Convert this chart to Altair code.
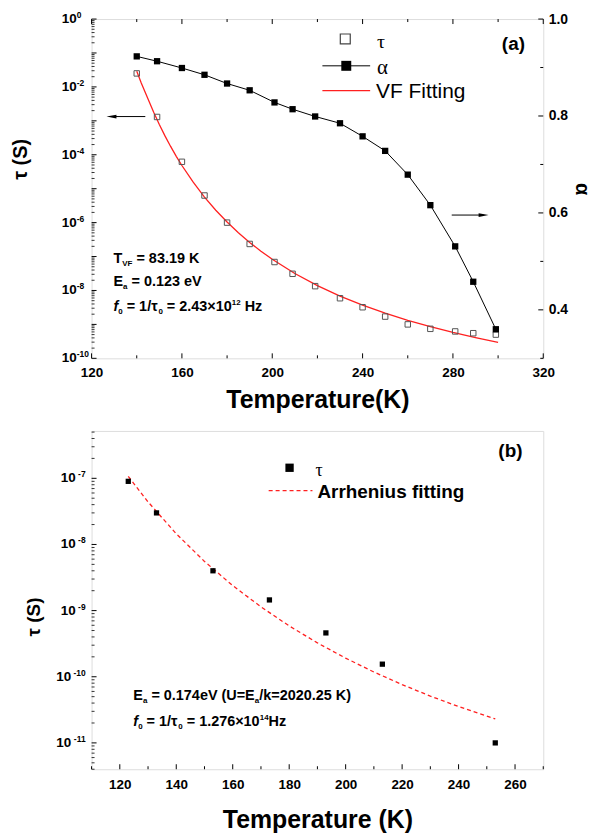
import altair as alt
import pandas as pd

FONT = "Liberation Sans, Arial, sans-serif"
SERIF = "Liberation Serif, Times New Roman, serif"
RED = "#ff2020"

# ---------------- panel (a) data ----------------
T_a = [140, 149, 160, 170, 180, 190, 201, 209, 219, 230, 240, 250, 260, 270, 281, 289, 299]
tau_a = [2.5e-2, 1.3e-3, 6.2e-5, 6.3e-6, 1.0e-6, 2.35e-7, 6.9e-8, 3.1e-8, 1.34e-8, 5.9e-9,
         3.2e-9, 1.7e-9, 1.0e-9, 7.4e-10, 6.2e-10, 5.5e-10, 5.0e-10]
alpha_a = [0.923, 0.913, 0.899, 0.885, 0.867, 0.853, 0.828, 0.814, 0.799, 0.785, 0.758,
           0.728, 0.679, 0.616, 0.531, 0.458, 0.360]
T_fit_a = [140, 142, 145, 147.5, 150, 152.5, 155, 157.5, 160, 165, 170, 175, 180, 185, 190, 195,
           200, 210, 220, 230, 240, 250, 260, 270, 280, 290, 300]
tau_fit_a = [2.9e-2, 1.3e-2, 4.39e-3, 1.78e-3, 7.78e-4, 3.6e-4, 1.76e-4, 9.0e-5, 4.82e-5, 1.55e-5,
             5.67e-6, 2.32e-6, 1.04e-6, 5.03e-7, 2.61e-7, 1.44e-7, 8.31e-8, 3.17e-8, 1.39e-8,
             6.85e-9, 3.69e-9, 2.14e-9, 1.32e-9, 8.55e-10, 5.80e-10, 4.08e-10, 2.97e-10]

x_major_a = [120, 160, 200, 240, 280, 320]
x_minor_a = [140, 180, 220, 260, 300]
alpha_major = [0.4, 0.6, 0.8, 1.0]
alpha_minor = [0.3, 0.5, 0.7, 0.9]
tau_label_exp_a = [0, -2, -4, -6, -8, -10]
tau_decades_a = list(range(-10, 1))

# ---------------- panel (b) data ----------------
T_b = [123, 133, 153, 173, 193, 213, 253]
tau_b = [9.0e-8, 3.0e-8, 4.0e-9, 1.45e-9, 4.6e-10, 1.55e-10, 1.0e-11]
T_fit_b = [123, 130, 140, 150, 160, 170, 180, 190, 200, 210, 220, 230, 240, 253]
tau_fit_b = [1.07e-7, 4.40e-8, 1.45e-8, 5.54e-9, 2.39e-9, 1.14e-9, 5.87e-10, 3.25e-10,
             1.91e-10, 1.18e-10, 7.62e-11, 5.10e-11, 3.54e-11, 2.30e-11]

x_major_b = [120, 140, 160, 180, 200, 220, 240, 260]
x_minor_b = [110, 130, 150, 170, 190, 210, 230, 250, 270]
tau_label_exp_b = [-7, -8, -9, -10, -11]
tau_decades_b = [-12, -11, -10, -9, -8, -7]

WA, HA = 454, 341
WB, HB = 454, 340
SPACING = 73
DOM_TAU_A = [1e-10, 1.0]
DOM_TAU_B = [4e-12, 5.2e-7]

one = pd.DataFrame({"k": [0]})

# Arial-bold advance widths (per 1000 em) for the rich-text annotations
WID = {' ': 278, '(': 333, ')': 333, '.': 278, '/': 278, '=': 584, '\u00d7': 584,
       '-': 333, 'A': 722, 'E': 667, 'F': 611, 'H': 722, 'K': 722, 'T': 611, 'U': 722, 'V': 667,
       'a': 556, 'e': 556, 'f': 333, 'k': 556, 'z': 500, '\u03c4': 500}


def twidth(s, size):
    return sum(WID.get(c, 556) for c in s) * size / 1000.0


def rich(segments, x0, y0):
    out = []
    x = x0
    for seg in segments:
        txt, size, dy = seg[0], seg[1], seg[2]
        italic = len(seg) > 3 and seg[3]
        stripped = txt.lstrip(' ')
        x += twidth(txt[:len(txt) - len(stripped)], size)
        kw = dict(text=stripped, align='left', baseline='alphabetic', fontSize=size,
                  fontWeight='bold', font=FONT, color='black')
        if italic:
            kw['fontStyle'] = 'italic'
        out.append(alt.Chart(one).mark_text(**kw).encode(x=alt.value(x), y=alt.value(y0 + dy)))
        x += twidth(stripped, size)
    return out


def label(txt, x, y, size, weight='bold', font=FONT, align='left', angle=None, baseline='middle'):
    kw = dict(text=txt, align=align, baseline=baseline, fontSize=size, fontWeight=weight,
              font=font, color='black')
    if angle is not None:
        kw['angle'] = angle
    return alt.Chart(one).mark_text(**kw).encode(x=alt.value(x), y=alt.value(y))


def hline(x1, x2, y, color='black', width=1.0, dash=None):
    kw = dict(color=color, strokeWidth=width)
    if dash:
        kw['strokeDash'] = dash
    return alt.Chart(one).mark_rule(**kw).encode(x=alt.value(x1), x2=alt.value(x2), y=alt.value(y))


def sym(x, y, size, filled=True, shape='square', color='black', sw=1.0):
    if filled:
        m = alt.Chart(one).mark_point(shape=shape, filled=True, size=size, color=color, opacity=1)
    else:
        m = alt.Chart(one).mark_point(shape=shape, filled=False, size=size, color=color,
                                      strokeWidth=sw, opacity=1)
    return m.encode(x=alt.value(x), y=alt.value(y))


# ---------------- panel (a) ----------------
axis_xa = alt.Axis(values=x_major_a, ticks=False, domain=False, grid=False, labelFont=FONT,
                   labelFontSize=13.5, labelFontWeight='bold', labelColor='black', labelPadding=7,
                   labelFlush=False, title='Temperature(K)', titleFont=FONT, titleFontSize=25,
                   titleFontWeight='bold', titleColor='black', titlePadding=9)
sc_xa = alt.Scale(domain=[120, 320], nice=False, zero=False)
sc_tau_a = alt.Scale(type='log', domain=DOM_TAU_A, nice=False)
sc_alpha = alt.Scale(domain=[0.3, 1.0], nice=False, zero=False)
axis_alpha = alt.Axis(orient='right', values=alpha_major, format='.1f', ticks=False, domain=False,
                      grid=False, labelFont=FONT, labelFontSize=14, labelFontWeight='bold',
                      labelColor='black', labelPadding=5, labelFlush=False, title='\u03b1',
                      titleFont=FONT, titleFontSize=20, titleFontWeight='bold', titleColor='black',
                      titleAngle=90, titlePadding=4)


def XA(f='T'):
    return alt.X(f'{f}:Q', scale=sc_xa, axis=axis_xa)


def YTA(f):
    return alt.Y(f'{f}:Q', scale=sc_tau_a, axis=None)


def YAL(f):
    return alt.Y(f'{f}:Q', scale=sc_alpha, axis=axis_alpha)


dfa = pd.DataFrame({'T': T_a, 'tau': tau_a, 'alpha': alpha_a})
dfa_fit = pd.DataFrame({'T': T_fit_a, 'tau': tau_fit_a})
tau_major_a = pd.DataFrame({'v': [10.0 ** e for e in tau_decades_a]})
tau_minor_a = pd.DataFrame({'v': [m * 10.0 ** e for e in tau_decades_a[:-1] for m in range(2, 10)]})
tau_lab_a = pd.DataFrame({'v': [10.0 ** e for e in tau_label_exp_a],
                          'e': [str(e) for e in tau_label_exp_a]})

tau_layer_a = alt.layer(
    alt.Chart(dfa_fit).mark_line(color=RED, strokeWidth=1.3).encode(x=XA(), y=YTA('tau')),
    alt.Chart(dfa).mark_point(shape='square', filled=False, size=30, color='#555555',
                              strokeWidth=1, opacity=1).encode(x=XA(), y=YTA('tau')),
    alt.Chart(tau_major_a).mark_rule(color='black', strokeWidth=1).encode(
        y=YTA('v'), x=alt.value(0), x2=alt.value(5)),
    alt.Chart(tau_minor_a).mark_rule(color='black', strokeWidth=0.8).encode(
        y=YTA('v'), x=alt.value(0), x2=alt.value(3)),
    alt.Chart(tau_lab_a).mark_text(text='10', align='right', baseline='middle', fontSize=13.5,
                                   fontWeight='bold', font=FONT, color='black').encode(
        y=YTA('v'), x=alt.value(-15)),
    alt.Chart(tau_lab_a).mark_text(align='left', baseline='middle', fontSize=8.5, fontWeight='bold',
                                   font=FONT, color='black', dy=-4).encode(
        y=YTA('v'), x=alt.value(-15), text='e:N'),
)

alpha_layer = alt.layer(
    alt.Chart(dfa).mark_line(color='black', strokeWidth=1).encode(x=XA(), y=YAL('alpha')),
    alt.Chart(dfa).mark_point(shape='square', filled=True, size=40, color='black', opacity=1).encode(
        x=XA(), y=YAL('alpha')),
    alt.Chart(pd.DataFrame({'v': alpha_major})).mark_rule(color='black', strokeWidth=1).encode(
        y=YAL('v'), x=alt.value(WA), x2=alt.value(WA - 5)),
    alt.Chart(pd.DataFrame({'v': alpha_minor})).mark_rule(color='black', strokeWidth=1).encode(
        y=YAL('v'), x=alt.value(WA), x2=alt.value(WA - 3)),
)

xt_a = [
    alt.Chart(pd.DataFrame({'T': x_major_a})).mark_rule(color='black').encode(
        x=XA(), y=alt.value(HA), y2=alt.value(HA - 5)),
    alt.Chart(pd.DataFrame({'T': x_minor_a})).mark_rule(color='black').encode(
        x=XA(), y=alt.value(HA), y2=alt.value(HA - 3)),
    alt.Chart(pd.DataFrame({'T': x_major_a})).mark_rule(color='black').encode(
        x=XA(), y=alt.value(0), y2=alt.value(5)),
    alt.Chart(pd.DataFrame({'T': x_minor_a})).mark_rule(color='black').encode(
        x=XA(), y=alt.value(0), y2=alt.value(3)),
]

deco_a = [
    # legend
    sym(255, 20, 100, filled=False, color='#444444', sw=1.2),
    label('\u03c4', 287, 23, 20, weight='normal', font=SERIF),
    hline(232, 280, 47),
    sym(256, 47, 100),
    label('\u03b1', 287, 49, 21, weight='normal', font=SERIF),
    hline(232, 280, 72, color=RED, width=1.3),
    label('VF Fitting', 286, 73, 21, weight='normal'),
    label('(a)', 424, 25, 19, align='center'),
    # arrows
    hline(20, 54, 98),
    sym(20, 98, 100, shape='M-1,0L1,-0.38L1,0.38Z'),
    hline(362, 394, 197),
    sym(394, 197, 100, shape='M1,0L-1,-0.38L-1,0.38Z'),
    # y-title
    label('\u03c4 (S)', -71, 141, 20, align='center', angle=270),
]
deco_a += rich([('T', 14.5, 0), ('VF', 8, 3), (' = 83.19 K', 14.5, 0)], 22, 245)
deco_a += rich([('E', 14.5, 0), ('a', 8, 3), (' = 0.123 eV', 14.5, 0)], 22, 268)
deco_a += rich([('f', 14.5, 0, True), ('0', 8, 3), (' = 1/\u03c4', 14.5, 0), ('0', 8, 3),
                (' = 2.43\u00d710', 14.5, 0), ('12', 8, -6), (' Hz', 14.5, 0)], 22, 293)

panel_a = alt.layer(tau_layer_a, alpha_layer, *xt_a, *deco_a).resolve_scale(
    y='independent').properties(width=WA, height=HA)

# ---------------- panel (b) ----------------
axis_xb = alt.Axis(values=x_major_b, ticks=False, domain=False, grid=False, labelFont=FONT,
                   labelFontSize=13.5, labelFontWeight='bold', labelColor='black', labelPadding=8,
                   labelFlush=False, title='Temperature (K)', titleFont=FONT, titleFontSize=25,
                   titleFontWeight='bold', titleColor='black', titlePadding=17)
sc_xb = alt.Scale(domain=[110, 270], nice=False, zero=False)
sc_tau_b = alt.Scale(type='log', domain=DOM_TAU_B, nice=False)


def XB(f='T'):
    return alt.X(f'{f}:Q', scale=sc_xb, axis=axis_xb)


def YTB(f):
    return alt.Y(f'{f}:Q', scale=sc_tau_b, axis=None)


dfb = pd.DataFrame({'T': T_b, 'tau': tau_b})
dfb_fit = pd.DataFrame({'T': T_fit_b, 'tau': tau_fit_b})
lo_b, hi_b = DOM_TAU_B
tau_major_b = pd.DataFrame({'v': [10.0 ** e for e in tau_decades_b if lo_b <= 10.0 ** e <= hi_b]})
tau_minor_b = pd.DataFrame({'v': [m * 10.0 ** e for e in tau_decades_b for m in range(2, 10)
                                  if lo_b <= m * 10.0 ** e <= hi_b]})
tau_lab_b = pd.DataFrame({'v': [10.0 ** e for e in tau_label_exp_b],
                          'e': [str(e) for e in tau_label_exp_b]})

base_b = alt.Chart(tau_lab_b).transform_calculate(n='length(datum.e)')
panel_b_layers = [
    alt.Chart(dfb_fit).mark_line(color=RED, strokeWidth=1.3, strokeDash=[4, 3]).encode(
        x=XB(), y=YTB('tau')),
    alt.Chart(dfb).mark_point(shape='square', filled=True, size=28, color='black', opacity=1).encode(
        x=XB(), y=YTB('tau')),
    alt.Chart(tau_major_b).mark_rule(color='black', strokeWidth=1).encode(
        y=YTB('v'), x=alt.value(0), x2=alt.value(5)),
    alt.Chart(tau_minor_b).mark_rule(color='black', strokeWidth=0.8).encode(
        y=YTB('v'), x=alt.value(0), x2=alt.value(3)),
    base_b.transform_filter('datum.n == 2').mark_text(
        text='10', align='right', baseline='middle', fontSize=13.5, fontWeight='bold', font=FONT,
        color='black').encode(y=YTB('v'), x=alt.value(-16)),
    base_b.transform_filter('datum.n == 3').mark_text(
        text='10', align='right', baseline='middle', fontSize=13.5, fontWeight='bold', font=FONT,
        color='black').encode(y=YTB('v'), x=alt.value(-20.5)),
    alt.Chart(tau_lab_b).mark_text(align='right', baseline='middle', fontSize=8.5, fontWeight='bold',
                                   font=FONT, color='black', dy=-4).encode(
        y=YTB('v'), x=alt.value(-6), text='e:N'),
    alt.Chart(pd.DataFrame({'T': x_major_b})).mark_rule(color='black').encode(
        x=XB(), y=alt.value(HB), y2=alt.value(HB - 5)),
    alt.Chart(pd.DataFrame({'T': x_minor_b})).mark_rule(color='black').encode(
        x=XB(), y=alt.value(HB), y2=alt.value(HB - 3)),
    # legend
    sym(199, 37, 70),
    label('\u03c4', 225, 40, 18, weight='normal', font=SERIF),
    hline(178, 222, 60, color=RED, width=1.3, dash=[4, 3]),
    label('Arrhenius fitting', 227, 61, 19),
    label('(b)', 421, 20, 19, align='center'),
    label('\u03c4 (S)', -58, 187, 19, align='center', angle=270),
]
panel_b_layers += rich([('E', 14.5, 0), ('a', 8, 3), (' = 0.174eV (U=E', 14.5, 0), ('a', 8, 3),
                        ('/k=2020.25 K)', 14.5, 0)], 42, 270)
panel_b_layers += rich([('f', 14.5, 0, True), ('0', 8, 3), (' = 1/\u03c4', 14.5, 0), ('0', 8, 3),
                        (' = 1.276\u00d710', 14.5, 0), ('14', 8, -6), ('Hz', 14.5, 0)], 42, 297)

panel_b = alt.layer(*panel_b_layers).properties(width=WB, height=HB)

chart = alt.vconcat(panel_a, panel_b, spacing=SPACING, bounds='flush').properties(
    padding={'left': 2, 'top': 0, 'right': 3, 'bottom': 0}
).configure_view(stroke='black', strokeWidth=1.5).configure(background='white')

chart.save("out.html", embed_options={"renderer": "svg", "actions": False})
